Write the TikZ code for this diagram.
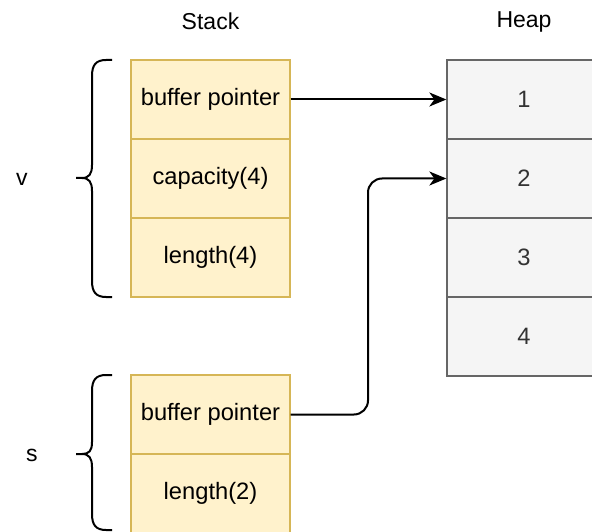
\documentclass[tikz,border=0pt]{standalone}
\usepackage{fontspec}
\setmainfont{Liberation Sans}
\usetikzlibrary{arrows.meta}
\definecolor{stackfill}{HTML}{FFF2CC}
\definecolor{stackline}{HTML}{D6B656}
\definecolor{heapfill}{HTML}{F5F5F5}
\definecolor{heapline}{HTML}{666666}
\definecolor{heaptext}{HTML}{333333}
\tikzset{
  cell/.style={draw, line width=1.3pt, minimum height=79pt,
    inner sep=0pt, font=\fontsize{23.7}{28}\selectfont},
  stackcell/.style={cell, fill=stackfill, draw=stackline, text=black, minimum width=159pt},
  heapcell/.style={cell, fill=heapfill, draw=heapline, text=heaptext, minimum width=154pt},
  title/.style={font=\fontsize{23}{27}\selectfont},
  varname/.style={font=\fontsize{23}{27}\selectfont},
  brace/.style={draw, line width=2pt, line join=round},
  ptr/.style={draw, line width=2pt, -{Stealth[length=17pt, width=14pt, inset=5pt]}},
}
\begin{document}
\begin{tikzpicture}[x=1pt, y=-1pt]
  \useasboundingbox (0,0) rectangle (592,532);
  \clip (0,0) rectangle (592,532);
  \fill[white] (0,0) rectangle (592,532);

  % column titles
  \node[title] (stacktitle) at (210.5,21.5) {Stack};
  \node[title] (heaptitle) at (524,21.5) {Heap};

  % vector v on the stack
  \node[stackcell] (vptr) at (210.5,99.5) {buffer pointer};
  \node[stackcell] (vcap) at (210.5,178.5) {capacity(4)};
  \node[stackcell] (vlen) at (210.5,257.5) {length(4)};

  % slice s on the stack
  \node[stackcell] (sptr) at (210.5,414.5) {buffer pointer};
  \node[stackcell] (slen) at (210.5,493.5) {length(2)};

  % heap buffer
  \node[heapcell] (h1) at (524,99.5) {1};
  \node[heapcell] (h2) at (524,178.5) {2};
  \node[heapcell] (h3) at (524,257.5) {3};
  \node[heapcell] (h4) at (524,336.5) {4};

  % variable names
  \node[varname] (vname) at (22,179) {v};
  \node[varname] (sname) at (32,455) {s};

  % curly braces grouping the stack fields
  \path[brace] (112,60) -- (106,60) .. controls (96,60) and (92,65) .. (92,76)
    -- (92,165) .. controls (92,174) and (89,178) .. (82,178) -- (76,178)
    (82,178) .. controls (89,178) and (92,182) .. (92,191)
    -- (92,281) .. controls (92,292) and (96,297) .. (106,297) -- (112,297);
  \path[brace] (112,375) -- (106,375) .. controls (96,375) and (92,380) .. (92,391)
    -- (92,442) .. controls (92,451) and (89,454) .. (82,454) -- (76,454)
    (82,454) .. controls (89,454) and (92,458) .. (92,467)
    -- (92,514) .. controls (92,525) and (96,530) .. (106,530) -- (112,530);

  % pointers into the heap
  \path[ptr] (vptr.east) -- (h1.west);
  \path[ptr, rounded corners=14pt] (sptr.east) -- (368,414.5) -- (368,178.5) -- (h2.west);
\end{tikzpicture}
\end{document}
